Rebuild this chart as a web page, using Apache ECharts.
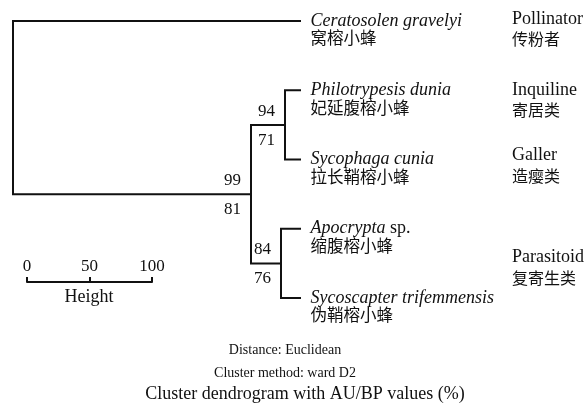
<!DOCTYPE html>
<html><head><meta charset="utf-8">
<script src="https://cdn.jsdelivr.net/npm/echarts@6/dist/echarts.min.js"></script>
<style>html,body{margin:0;padding:0;background:#fff}#c{width:587px;height:406px}</style>
</head><body><div id="c"></div>
<script>
// ---- data ----
const leafNames = ['Ceratosolen gravelyi', 'Philotrypesis dunia', 'Sycophaga cunia', 'Apocrypta sp.', 'Sycoscapter trifemmensis'];
const leafNamesZh = ['窝榕小蜂', '妃延腹榕小蜂', '拉长鞘榕小蜂', '缩腹榕小蜂', '伪鞘榕小蜂'];
// hclust-style merges: negative = leaf (1-based), positive = earlier merge (1-based)
const mergeA = [-2, -4, 1, -1];
const mergeB = [-3, -5, 2, 3];
const mergeHeights = [12, 15.2, 39.2, 229.6];
const auValues = [94, 84, 99, null];
const bpValues = [71, 76, 81, null];
const groupNames = ['Pollinator', 'Inquiline', 'Galler', 'Parasitoid'];
const groupNamesZh = ['传粉者', '寄居类', '造瘿类', '复寄生类'];
const scaleTicks = [0, 50, 100];

// ---- build dendrogram geometry (in data units) ----
const nodePos = []; // [height, y] per merge
function pos(ref) {
  if (ref < 0) return [0, -ref - 1];
  return nodePos[ref - 1];
}
const segs = [];
for (let i = 0; i < mergeHeights.length; i++) {
  const a = pos(mergeA[i]), b = pos(mergeB[i]);
  const h = mergeHeights[i];
  const y = (a[1] + b[1]) / 2;
  nodePos.push([h, y]);
  segs.push({coords: [[a[0], a[1]], [h, a[1]], [h, b[1]], [b[0], b[1]]]});
}

const serif = '"Liberation Serif", "Times New Roman", serif';
const cjk = '"Noto Sans CJK SC", sans-serif';
const ink = '#111';

function leafLabel(name, zh) {
  let first;
  if (name.endsWith(' sp.')) first = '{it|' + name.slice(0, -4) + '}{n| sp.}';
  else first = '{it|' + name + '}';
  return first + '\n{zh|' + zh + '}';
}

const leafData = leafNames.map((n, i) => ({value: [0, i], name: n, zh: leafNamesZh[i]}));
const auData = [], bpData = [];
nodePos.forEach((p, i) => {
  if (auValues[i] != null) auData.push({value: p, v: auValues[i]});
  if (bpValues[i] != null) bpData.push({value: p, v: bpValues[i]});
});

const groupY = [[19, 39], [90, 110], [155, 176], [257, 278]];
const graphics = [];
groupNames.forEach((g, i) => {
  graphics.push({type: 'text', x: 512, y: groupY[i][0], style: {text: g, fill: ink, font: '18px ' + serif, textVerticalAlign: 'middle'}});
  graphics.push({type: 'text', x: 512, y: groupY[i][1], style: {text: groupNamesZh[i], fill: ink, font: '16px ' + cjk, textVerticalAlign: 'middle'}});
});
graphics.push(
  {type: 'text', x: 89, y: 297, style: {text: 'Height', fill: ink, font: '18px ' + serif, textAlign: 'center', textVerticalAlign: 'middle'}},
  {type: 'text', x: 285, y: 350, style: {text: 'Distance: Euclidean', fill: ink, font: '14px ' + serif, textAlign: 'center', textVerticalAlign: 'middle'}},
  {type: 'text', x: 285, y: 373, style: {text: 'Cluster method: ward D2', fill: ink, font: '14px ' + serif, textAlign: 'center', textVerticalAlign: 'middle'}},
  {type: 'text', x: 305, y: 394, style: {text: 'Cluster dendrogram with AU/BP values (%)', fill: ink, font: '18px ' + serif, textAlign: 'center', textVerticalAlign: 'middle'}}
);

const chart = echarts.init(document.getElementById('c'), null, {renderer: 'canvas'});
chart.setOption({
  animation: false,
  backgroundColor: '#fff',
  grid: [
    {left: 13, right: 287, top: 21, bottom: 108},
    {left: 27, width: 125, top: 282, height: 10}
  ],
  xAxis: [
    {gridIndex: 0, type: 'value', inverse: true, min: 0, max: mergeHeights[mergeHeights.length - 1], show: false},
    {gridIndex: 1, type: 'value', min: scaleTicks[0], max: scaleTicks[scaleTicks.length - 1], interval: 50,
     position: 'top',
     axisLine: {show: true, onZero: false, lineStyle: {color: ink, width: 2}},
     axisTick: {show: true, length: 5, lineStyle: {color: ink, width: 2}},
     axisLabel: {show: true, margin: 7, color: ink, fontFamily: serif, fontSize: 17, showMinLabel: true, showMaxLabel: true},
     splitLine: {show: false}
    }
  ],
  yAxis: [
    {gridIndex: 0, type: 'value', inverse: true, min: 0, max: leafNames.length - 1, show: false},
    {gridIndex: 1, type: 'value', min: 0, max: 1, show: false}
  ],
  series: [
    {
      type: 'lines', coordinateSystem: 'cartesian2d', xAxisIndex: 0, yAxisIndex: 0,
      polyline: true, clip: false, silent: true,
      lineStyle: {color: ink, width: 2, opacity: 1, cap: 'square', join: 'miter'},
      data: segs
    },
    {
      type: 'scatter', xAxisIndex: 0, yAxisIndex: 0, symbolSize: 1, clip: false, silent: true,
      itemStyle: {color: 'rgba(0,0,0,0)', opacity: 1},
      data: leafData,
      label: {
        show: true, position: 'right', distance: 10, offset: [0, 8.5],
        formatter: p => leafLabel(p.data.name, p.data.zh),
        rich: {
          it: {fontFamily: serif, fontStyle: 'italic', fontSize: 18, color: ink, lineHeight: 17},
          n: {fontFamily: serif, fontSize: 18, color: ink, lineHeight: 17},
          zh: {fontFamily: cjk, fontSize: 16.5, color: ink, lineHeight: 17}
        }
      }
    },
    {
      type: 'scatter', xAxisIndex: 0, yAxisIndex: 0, symbolSize: 1, clip: false, silent: true,
      itemStyle: {color: 'rgba(0,0,0,0)', opacity: 1},
      data: auData,
      label: {show: true, position: [-18, -13], align: 'center', verticalAlign: 'middle',
        formatter: p => String(p.data.v), fontFamily: serif, fontSize: 17, color: ink}
    },
    {
      type: 'scatter', xAxisIndex: 0, yAxisIndex: 0, symbolSize: 1, clip: false, silent: true,
      itemStyle: {color: 'rgba(0,0,0,0)', opacity: 1},
      data: bpData,
      label: {show: true, position: [-18, 16], align: 'center', verticalAlign: 'middle',
        formatter: p => String(p.data.v), fontFamily: serif, fontSize: 17, color: ink}
    }
  ],
  graphic: graphics
});
</script>
</body></html>
